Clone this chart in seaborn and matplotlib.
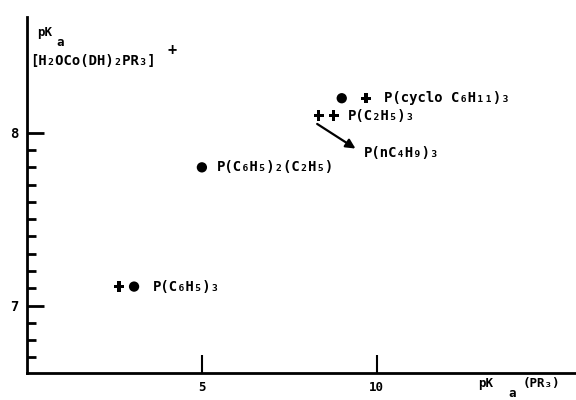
import pandas as pd
import seaborn as sns
import matplotlib.pyplot as plt
from matplotlib.ticker import FixedLocator

# pKa of the free phosphine (x) vs pKa of the aqua complex (y)
ligands = ['P(C₆H₅)₃', 'P(C₆H₅)₃', 'P(C₆H₅)₂(C₂H₅)', 'P(C₂H₅)₃', 'P(C₂H₅)₃',
           'P(cyclo C₆H₁₁)₃', 'P(cyclo C₆H₁₁)₃']
pka_pr3 = [2.63, 3.06, 5.0, 8.34, 8.77, 9.0, 9.69]
pka_complex = [7.11, 7.11, 7.80, 8.10, 8.10, 8.20, 8.20]
marker_kind = ['plus', 'dot', 'dot', 'plus', 'plus', 'dot', 'plus']

labels = ['P(cyclo C₆H₁₁)₃', 'P(C₂H₅)₃', 'P(nC₄H₉)₃', 'P(C₆H₅)₂(C₂H₅)', 'P(C₆H₅)₃']
label_x = [10.2, 9.17, 9.63, 5.43, 3.6]
label_y = [8.20, 8.10, 7.885, 7.80, 7.11]

df = pd.DataFrame({'ligand': ligands, 'x': pka_pr3, 'y': pka_complex, 'kind': marker_kind})

sns.set_style('white')
plt.rcParams['font.family'] = ['DejaVu Sans Mono', 'DejaVu Sans']
plt.rcParams['text.color'] = 'black'
plt.rcParams['axes.edgecolor'] = 'black'
plt.rcParams['xtick.color'] = 'black'
plt.rcParams['ytick.color'] = 'black'

fig = plt.figure(figsize=(5.76, 4), dpi=100)
ax = fig.add_axes([0.047, 0.0675, 0.953, 0.89])

sns.scatterplot(data=df, x='x', y='y', style='kind',
                markers={'dot': 'o', 'plus': 'P'}, color='black',
                s=55, edgecolor='black', linewidth=0, legend=False, ax=ax)

for t, lx, ly in zip(labels, label_x, label_y):
    ax.text(lx, ly, t, fontsize=10, fontweight='bold', va='center', ha='left')

# arrow toward P(nC4H9)3
ax.annotate('', xy=(9.46, 7.90), xytext=(8.23, 8.06),
            arrowprops=dict(arrowstyle='-|>', color='black', lw=1.6, mutation_scale=14))

ax.set_xlim(0, 15.7)
ax.set_ylim(6.61, 8.67)
ax.set_xticks([5, 10])
ax.set_xticklabels(['5', '10'], fontsize=9, fontweight='bold')
ax.set_yticks([7, 8])
ax.set_yticklabels(['7', '8'], fontsize=10, fontweight='bold')
ax.yaxis.set_minor_locator(FixedLocator([6.7, 6.8, 6.9] + [7 + i / 10 for i in range(1, 10)]))
ax.tick_params(axis='y', which='major', direction='in', length=12, width=2, left=True, pad=6)
ax.tick_params(axis='y', which='minor', direction='in', length=6.5, width=2, left=True)
ax.tick_params(axis='x', which='major', direction='in', length=13, width=1.5, bottom=True, pad=6)

sns.despine(ax=ax)
ax.spines['left'].set_linewidth(2)
ax.spines['bottom'].set_linewidth(2)
ax.set_xlabel('')
ax.set_ylabel('')

fig.text(0.83, 0.042, 'pK', fontsize=9, fontweight='bold', va='center')
fig.text(0.882, 0.016, 'a', fontsize=9, fontweight='bold', va='center')
fig.text(0.908, 0.042, '(PR₃)', fontsize=9, fontweight='bold', va='center')
fig.text(0.064, 0.918, 'pK', fontsize=9, fontweight='bold', va='center')
fig.text(0.098, 0.895, 'a', fontsize=9, fontweight='bold', va='center')
fig.text(0.052, 0.848, '[H₂OCo(DH)₂PR₃]', fontsize=10, fontweight='bold', va='center')
fig.text(0.29, 0.875, '+', fontsize=11, fontweight='bold', va='center')

fig.savefig('out.png', dpi=100)
